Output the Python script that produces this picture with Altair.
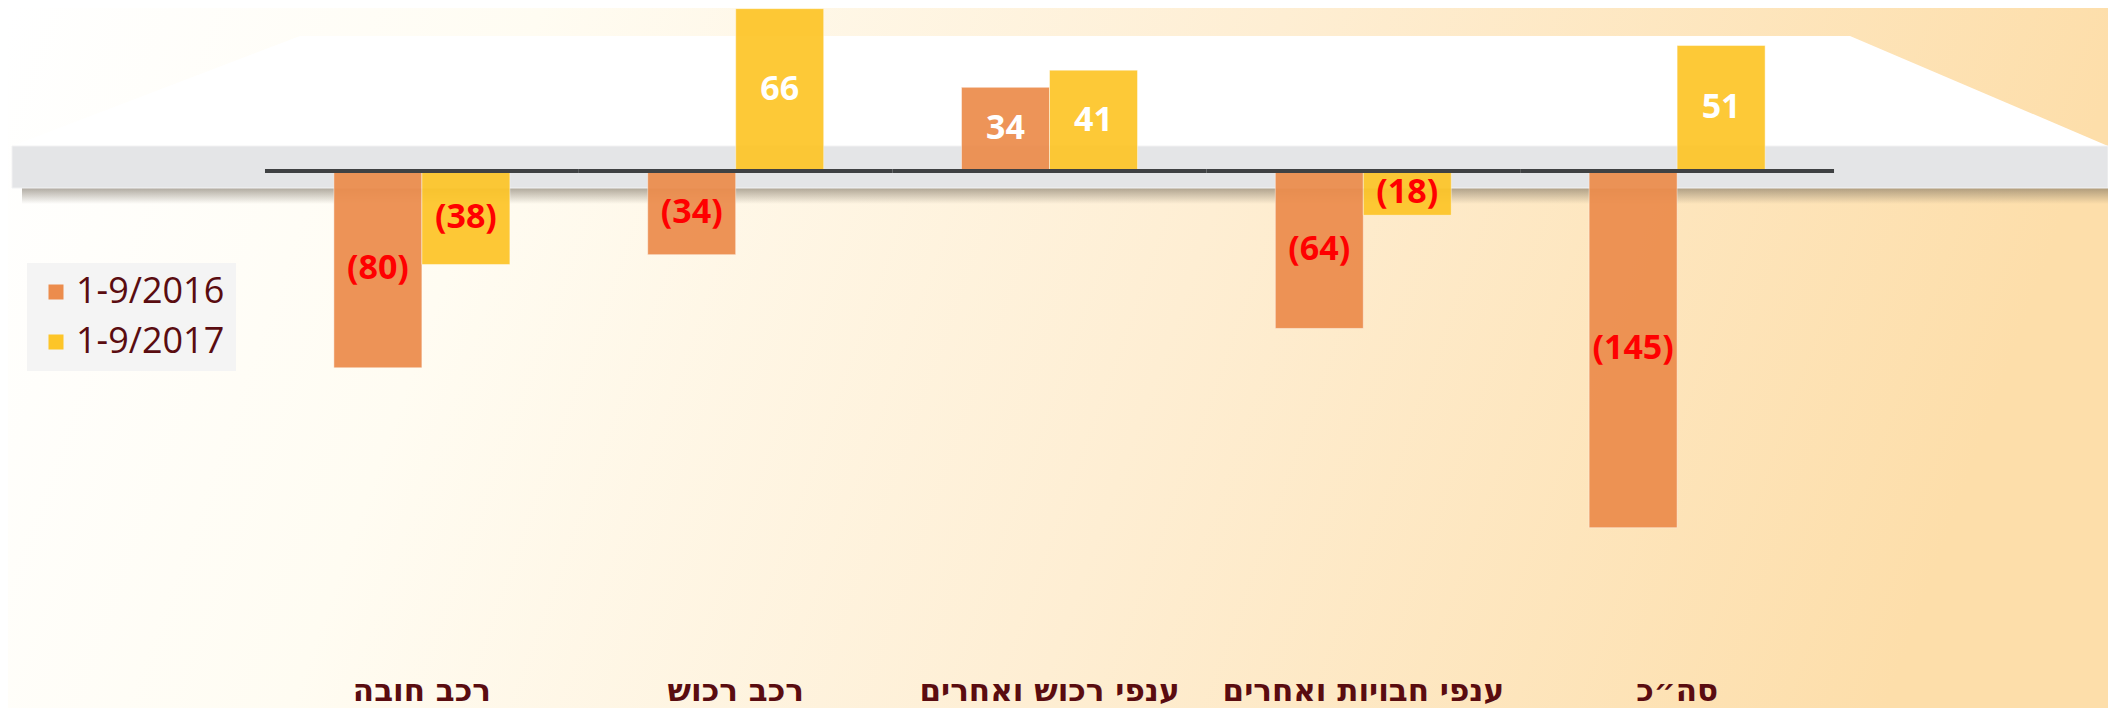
import altair as alt
import pandas as pd

# ---- data -------------------------------------------------------------
categories = ["רכב חובה", "רכב רכוש", "ענפי רכוש ואחרים", "ענפי חבויות ואחרים", "סה״כ"]
series = ["1-9/2016", "1-9/2017"]
values_2016 = [-80, -34, 34, -64, -145]
values_2017 = [-38, 66, 41, -18, 51]
series_colors = ["#EC8C4C", "#FDC528"]

rows = []
for i, c in enumerate(categories):
    rows.append({"category": c, "series": series[0], "value": values_2016[i]})
    rows.append({"category": c, "series": series[1], "value": values_2017[i]})
df = pd.DataFrame(rows)
df_cats = pd.DataFrame({"category": categories})

# decorative platform outline (chart pixels)
plat_x = [4, 292, 1842, 2100]
plat_top = [138, 28, 28, 138]
plat_bottom = [138, 138, 138, 138]
df_plat = pd.DataFrame({"px": plat_x, "py": plat_top, "py2": plat_bottom})
one = pd.DataFrame({"k": [0]})

W, H = 2100, 700
LABEL_FONT = "Open Sans"
CAT_FONT = "DejaVu Sans"
DARK = "#5A0C10"

# ---- decoration layer --------------------------------------------------
bg = alt.Chart(one).mark_rect(
    fill=alt.Gradient(
        gradient="linear", x1=0, y1=0, x2=1, y2=0.12,
        stops=[
            alt.GradientStop(color="#FFFFFF", offset=0),
            alt.GradientStop(color="#FFFCF2", offset=0.25),
            alt.GradientStop(color="#FEEED3", offset=0.6),
            alt.GradientStop(color="#FDDEAA", offset=1),
        ],
    )
).encode(x=alt.value(0), x2=alt.value(W), y=alt.value(0), y2=alt.value(H))

dscale_x = alt.Scale(domain=[0, W], nice=False, zero=False)
dscale_y = alt.Scale(domain=[0, H], reverse=True, nice=False, zero=False)
platform = alt.Chart(df_plat).mark_area(color="white", opacity=1).encode(
    x=alt.X("px:Q", scale=dscale_x, axis=None),
    y=alt.Y("py:Q", scale=dscale_y, axis=None),
    y2="py2:Q",
)
shadow = alt.Chart(one).mark_rect(
    fill=alt.Gradient(
        gradient="linear", x1=0, y1=0, x2=0, y2=1,
        stops=[
            alt.GradientStop(color="rgba(110,100,85,0.55)", offset=0),
            alt.GradientStop(color="rgba(110,100,85,0)", offset=1),
        ],
    )
).encode(x=alt.value(14), x2=alt.value(2100), y=alt.value(180), y2=alt.value(196))
band = alt.Chart(one).mark_rect(color="#E4E5E7", stroke="#F2F2F3", strokeWidth=1).encode(
    x=alt.value(4), x2=alt.value(2100), y=alt.value(138), y2=alt.value(180)
)
deco = alt.layer(bg, platform, shadow, band)

# ---- main chart --------------------------------------------------------
x_scale = alt.Scale(paddingInner=0, paddingOuter=0.846, align=0.484)
x_axis = alt.Axis(
    title=None, orient="bottom", labelAngle=0, domain=False, ticks=False, tickSize=0,
    grid=False, labelFont=CAT_FONT, labelFontSize=31, labelFontWeight="bold",
    labelColor=DARK, labelBaseline="alphabetic", labelPadding=0, offset=-8,
    labelLimit=0, zindex=1,
)
x_enc = alt.X("category:N", sort=categories, scale=x_scale, axis=x_axis)
y_scale = alt.Scale(domain=[-218.29, 66.26], nice=False, zero=False)
xo_enc = alt.XOffset("series:N", sort=series, scale=alt.Scale(paddingInner=0, paddingOuter=0.783))

bars = alt.Chart(df).mark_bar(
    opacity=0.93, stroke="white", strokeOpacity=0.45, strokeWidth=1
).encode(
    x=x_enc,
    xOffset=xo_enc,
    y=alt.Y("value:Q", scale=y_scale, stack=None, axis=None),
    y2=alt.datum(0),
    color=alt.Color(
        "series:N", sort=series,
        scale=alt.Scale(domain=series, range=series_colors),
        legend=alt.Legend(
            title=None, orient="none", legendX=19, legendY=255,
            fillColor="#F4F4F4", padding=11, rowPadding=14,
            symbolType="square", symbolSize=225, symbolStrokeWidth=0,
            symbolOpacity=1, labelFont=LABEL_FONT, labelFontSize=36,
            labelColor=DARK, labelOffset=2, labelBaseline="middle",
        ),
    ),
)

zero_line = alt.Chart(df_cats).mark_rect(color="#3F4143").encode(
    x=x_enc,
    y=alt.Y(datum=0.85, scale=y_scale, axis=None),
    y2=alt.datum(-0.85),
)

labels = alt.Chart(df).transform_calculate(
    label="datum.value < 0 ? '(' + abs(datum.value) + ')' : '' + datum.value",
    mid="datum.value / 2",
).mark_text(
    font=LABEL_FONT, fontSize=34, fontWeight="bold", align="center", baseline="middle"
).encode(
    x=x_enc,
    xOffset=xo_enc,
    y=alt.Y("mid:Q", scale=y_scale, axis=None),
    text="label:N",
    color=alt.when(alt.datum.value < 0).then(alt.value("#FF0000")).otherwise(alt.value("#FFFFFF")),
)

main = alt.layer(bars, zero_line, labels)

chart = alt.layer(deco, main).resolve_scale(
    x="independent", y="independent", color="independent"
).properties(
    width=W, height=H, padding=0, autosize=alt.AutoSizeParams(type="none")
).configure_view(stroke=None)

chart.save("out.html", embed_options={"renderer": "svg", "actions": False})
